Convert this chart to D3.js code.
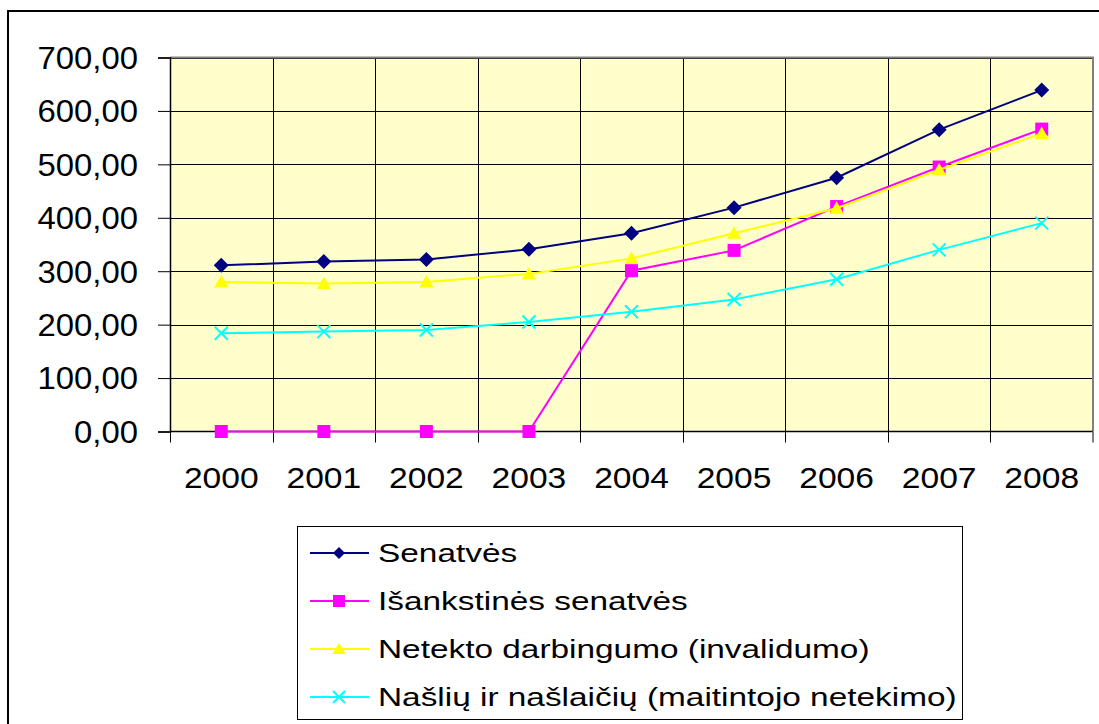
<!DOCTYPE html>
<html>
<head>
<meta charset="utf-8">
<script src="https://cdn.jsdelivr.net/npm/d3@7"></script>
<style>
  body { margin: 0; background: #fff; }
  text { font-family: "Liberation Sans", Arial, sans-serif; fill: #000; }
</style>
</head>
<body>
<div id="chart"></div>
<script>
// data
var years = ["2000", "2001", "2002", "2003", "2004", "2005", "2006", "2007", "2008"];
var senatves = [311, 318, 322, 341, 371, 419, 475, 565, 639];
var isankstines = [0, 0, 0, 0, 301, 339, 421, 495, 566];
var netekto = [280, 277, 280, 295, 324, 371, 418, 490, 558];
var nasliu = [184, 187, 190, 205, 224, 247, 285, 340, 390];
var seriesNames = ["Senatvės", "Išankstinės senatvės", "Netekto darbingumo (invalidumo)", "Našlių ir našlaičių (maitintojo netekimo)"];
var yTicks = [0, 100, 200, 300, 400, 500, 600, 700];

var series = [
    { name: seriesNames[0], values: senatves, color: "#000080", marker: "diamond" },
    { name: seriesNames[1], values: isankstines, color: "#ff00ff", marker: "square" },
    { name: seriesNames[2], values: netekto, color: "#ffff00", marker: "triangle" },
    { name: seriesNames[3], values: nasliu, color: "#00ffff", marker: "cross" }
];

var W = 1099, H = 724;
var plot = { left: 170, top: 57.5, right: 1093, bottom: 431.5 };

var svg = d3.select("#chart").append("svg")
    .attr("width", W)
    .attr("height", H);

// outer chart border
svg.append("rect")
    .attr("x", 8).attr("y", 11)
    .attr("width", 1120).attr("height", 740)
    .attr("fill", "#fff")
    .attr("stroke", "#000")
    .attr("stroke-width", 2);

var x = d3.scaleBand().domain(years).range([plot.left, plot.right]);
var y = d3.scaleLinear().domain([0, 700]).range([plot.bottom, plot.top]);

// plot background
svg.append("rect")
    .attr("x", plot.left).attr("y", plot.top)
    .attr("width", plot.right - plot.left)
    .attr("height", plot.bottom - plot.top)
    .attr("fill", "#ffffcc");

// horizontal gridlines
svg.append("g").selectAll("line")
    .data(yTicks.slice(1))
    .enter().append("line")
    .attr("x1", plot.left).attr("x2", plot.right)
    .attr("y1", function (d) { return Math.round(y(d)) + 0.5; })
    .attr("y2", function (d) { return Math.round(y(d)) + 0.5; })
    .attr("stroke", "#000")
    .attr("stroke-width", 1);

// vertical gridlines between categories
svg.append("g").selectAll("line")
    .data(years.slice(1))
    .enter().append("line")
    .attr("x1", function (d) { return Math.round(x(d)) + 0.5; })
    .attr("x2", function (d) { return Math.round(x(d)) + 0.5; })
    .attr("y1", plot.top).attr("y2", plot.bottom + 11)
    .attr("stroke", "#000")
    .attr("stroke-width", 1);

// plot area border (top / right)
svg.append("path")
    .attr("d", "M" + plot.left + "," + plot.top + "H" + plot.right + "V" + plot.bottom)
    .attr("fill", "none")
    .attr("stroke", "#808080")
    .attr("stroke-width", 2);

// y axis with labels like "700,00"
var yAxis = d3.axisLeft(y)
    .tickValues(yTicks)
    .tickSize(12)
    .tickPadding(20)
    .tickFormat(function (d) { return d3.format(".2f")(d).replace(".", ","); });

var gy = svg.append("g")
    .attr("transform", "translate(" + plot.left + ",0)")
    .call(yAxis);
gy.select(".domain").attr("stroke", "#000").attr("stroke-width", 1.5);
gy.selectAll(".tick line").attr("stroke", "#000");
gy.selectAll(".tick text")
    .attr("font-size", 31)
    .attr("dy", "0.35em")
    .attr("transform", "scale(1.06,1)")
    .attr("x", -32 / 1.06);

// x axis: ticks at category edges, labels at centre
var gx = svg.append("g")
    .attr("transform", "translate(0," + plot.bottom + ")");
gx.append("line")
    .attr("x1", plot.left).attr("x2", plot.right)
    .attr("y1", 0).attr("y2", 0)
    .attr("stroke", "#000").attr("stroke-width", 1.5);
gx.append("line")
    .attr("x1", plot.left + 0.5).attr("x2", plot.left + 0.5)
    .attr("y1", 0).attr("y2", 11)
    .attr("stroke", "#000");
gx.append("line")
    .attr("x1", plot.right).attr("x2", plot.right)
    .attr("y1", 0).attr("y2", 11)
    .attr("stroke", "#808080").attr("stroke-width", 2);
gx.selectAll("text")
    .data(years)
    .enter().append("text")
    .attr("text-anchor", "middle")
    .attr("font-size", 30)
    .attr("transform", function (d) {
        return "translate(" + (x(d) + x.bandwidth() / 2) + ",56) scale(1.12,1)";
    })
    .text(function (d) { return d; });

// marker shapes
function markerPath(type, s) {
    if (type == "diamond") return "M0," + (-s) + "L" + s + ",0L0," + s + "L" + (-s) + ",0Z";
    if (type == "square") return "M" + (-s) + "," + (-s) + "H" + s + "V" + s + "H" + (-s) + "Z";
    if (type == "triangle") return "M0," + (-s * 1.05) + "L" + (s * 1.1) + "," + (s * 0.85) + "L" + (-s * 1.1) + "," + (s * 0.85) + "Z";
    return "M" + (-s) + "," + (-s) + "L" + s + "," + s + "M" + s + "," + (-s) + "L" + (-s) + "," + s;
}

function drawMarker(g, type, color, s) {
    g.append("path")
        .attr("d", markerPath(type, s))
        .attr("fill", type == "cross" ? "none" : color)
        .attr("stroke", color)
        .attr("stroke-width", type == "cross" ? 2 : 0);
}

var line = d3.line()
    .x(function (d, i) { return x(years[i]) + x.bandwidth() / 2; })
    .y(function (d) { return y(d); });

// lines and markers
series.forEach(function (s) {
    var g = svg.append("g");
    g.append("path")
        .attr("d", line(s.values))
        .attr("fill", "none")
        .attr("stroke", s.color)
        .attr("stroke-width", 2);
    s.values.forEach(function (v, i) {
        var m = g.append("g")
            .attr("transform", "translate(" + (x(years[i]) + x.bandwidth() / 2) + "," + y(v) + ")");
        drawMarker(m, s.marker, s.color, s.marker == "diamond" ? 7.5 : 6.5);
    });
});

// legend
var legend = svg.append("g");
legend.append("rect")
    .attr("x", 297.5).attr("y", 526.5)
    .attr("width", 665).attr("height", 193)
    .attr("fill", "#fff")
    .attr("stroke", "#000")
    .attr("stroke-width", 1);

var item = legend.selectAll(".item")
    .data(series)
    .enter().append("g")
    .attr("class", "item")
    .attr("transform", function (d, i) { return "translate(0," + (553 + i * 48) + ")"; });

item.append("line")
    .attr("x1", 310).attr("x2", 369)
    .attr("y1", 0).attr("y2", 0)
    .attr("stroke", function (d) { return d.color; })
    .attr("stroke-width", 2);

item.each(function (d) {
    var m = d3.select(this).append("g").attr("transform", "translate(339,0)");
    drawMarker(m, d.marker, d.color, 6);
});

item.append("text")
    .attr("font-size", 26.5)
    .attr("transform", "translate(378,9) scale(1.26,1)")
    .text(function (d) { return d.name; });
</script>
</body>
</html>
